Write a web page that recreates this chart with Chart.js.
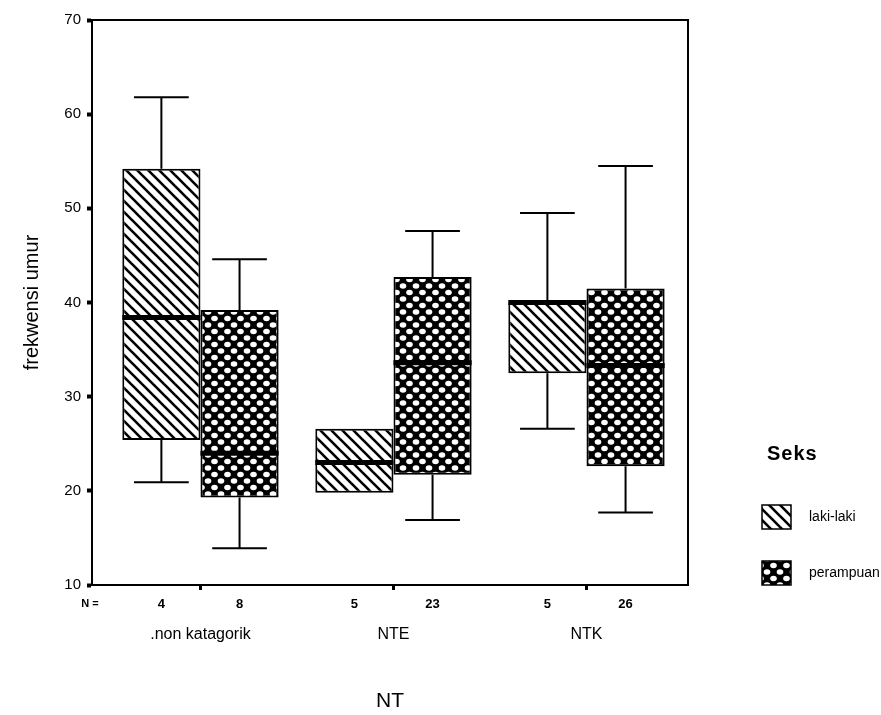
<!DOCTYPE html>
<html>
<head>
<meta charset="utf-8">
<script src="https://cdn.jsdelivr.net/npm/chart.js@4/dist/chart.umd.min.js"></script>
<style>
  html, body { margin: 0; padding: 0; background: #fff; }
  canvas { display: block; }
</style>
</head>
<body>
<canvas id="box-chart" width="881" height="715"></canvas>
<script>
const categories = [".non katagorik", "NTE", "NTK"];
const yTicks = [10, 20, 30, 40, 50, 60, 70];

// laki-laki
const lakiMin = [20.9, 19.8, 26.6];
const lakiQ1 = [25.4, 19.8, 32.5];
const lakiMedian = [38.4, 23.0, 40.0];
const lakiQ3 = [54.2, 26.6, 40.0];
const lakiMax = [61.8, 26.6, 49.5];
const lakiN = [4, 5, 5];

// perempuan
const perMin = [13.9, 16.9, 17.7];
const perQ1 = [19.3, 21.7, 22.6];
const perMedian = [24.0, 33.6, 33.3];
const perQ3 = [39.2, 42.7, 41.5];
const perMax = [44.6, 47.6, 54.5];
const perN = [8, 23, 26];

const FONT = "'Liberation Sans', Arial, sans-serif";

function stripePattern() {
  const c = document.createElement("canvas");
  c.width = 11;
  c.height = 11;
  const g = c.getContext("2d");
  g.fillStyle = "#fff";
  g.fillRect(0, 0, 11, 11);
  g.strokeStyle = "#000";
  g.lineWidth = 2.6;
  for (const k of [-11, 0, 11]) {
    g.beginPath();
    g.moveTo(-1, k - 1);
    g.lineTo(12, k + 12);
    g.stroke();
  }
  return g.createPattern(c, "repeat");
}

// black ground with rounded white holes on a diamond lattice
function crossPattern() {
  const s = 13;
  const c = document.createElement("canvas");
  c.width = s;
  c.height = s;
  const g = c.getContext("2d");
  g.fillStyle = "#000";
  g.fillRect(0, 0, s, s);
  g.fillStyle = "#fff";
  const holes = [[0, 0], [s, 0], [0, s], [s, s], [s / 2, s / 2]];
  for (const [hx, hy] of holes) {
    g.beginPath();
    g.ellipse(hx, hy, 3.3, 2.8, 0, 0, Math.PI * 2);
    g.fill();
  }
  return g.createPattern(c, "repeat");
}

const lakiFill = stripePattern();
const perFill = crossPattern();

const boxes = [
  { label: "laki-laki", fill: lakiFill, min: lakiMin, q1: lakiQ1, med: lakiMedian, q3: lakiQ3, max: lakiMax, n: lakiN },
  { label: "perampuan", fill: perFill, min: perMin, q1: perQ1, med: perMedian, q3: perQ3, max: perMax, n: perN },
];

const boxPlotPlugin = {
  id: "boxPlot",
  afterDatasetsDraw(chart) {
    const { ctx, chartArea } = chart;
    const y = chart.scales.y;
    ctx.save();
    ctx.strokeStyle = "#000";
    ctx.fillStyle = "#000";

    // frame top and right
    ctx.lineWidth = 2;
    ctx.beginPath();
    ctx.moveTo(chartArea.left, chartArea.top);
    ctx.lineTo(chartArea.right, chartArea.top);
    ctx.lineTo(chartArea.right, chartArea.bottom);
    ctx.stroke();

    boxes.forEach((b, di) => {
      const meta = chart.getDatasetMeta(di);
      meta.data.forEach((bar, i) => {
        const cx = bar.x;
        const w = bar.width;
        const cap = w * 0.7;
        const yMin = y.getPixelForValue(b.min[i]);
        const yQ1 = y.getPixelForValue(b.q1[i]);
        const yQ3 = y.getPixelForValue(b.q3[i]);
        const yMax = y.getPixelForValue(b.max[i]);
        const yMed = y.getPixelForValue(b.med[i]);

        ctx.lineWidth = 2;
        if (b.max[i] > b.q3[i]) {
          ctx.beginPath();
          ctx.moveTo(cx, yQ3);
          ctx.lineTo(cx, yMax);
          ctx.moveTo(cx - cap / 2, yMax);
          ctx.lineTo(cx + cap / 2, yMax);
          ctx.stroke();
        }
        if (b.min[i] < b.q1[i]) {
          ctx.beginPath();
          ctx.moveTo(cx, yQ1);
          ctx.lineTo(cx, yMin);
          ctx.moveTo(cx - cap / 2, yMin);
          ctx.lineTo(cx + cap / 2, yMin);
          ctx.stroke();
        }

        ctx.lineWidth = 5;
        ctx.beginPath();
        ctx.moveTo(cx - w / 2, yMed);
        ctx.lineTo(cx + w / 2, yMed);
        ctx.stroke();

        // N counts
        ctx.font = "bold 13px " + FONT;
        ctx.textAlign = "center";
        ctx.textBaseline = "middle";
        ctx.fillText(String(b.n[i]), cx, chartArea.bottom + 19);
      });
    });

    ctx.font = "bold 11px " + FONT;
    ctx.textAlign = "center";
    ctx.textBaseline = "middle";
    ctx.fillText("N =", chartArea.left - 2, chartArea.bottom + 19);

    // legend
    const lx = chartArea.right + 74;
    ctx.font = "bold 20px " + FONT;
    ctx.textAlign = "left";
    ctx.letterSpacing = "1px";
    ctx.fillText("Seks", lx + 5, 454);
    ctx.letterSpacing = "0px";
    boxes.forEach((b, di) => {
      const top = 505 + di * 56;
      ctx.fillStyle = b.fill;
      ctx.fillRect(lx, top, 29, 24);
      ctx.lineWidth = 1.5;
      ctx.strokeRect(lx, top, 29, 24);
      ctx.fillStyle = "#000";
      ctx.font = "14px " + FONT;
      ctx.fillText(b.label, lx + 47, top + 12);
    });
    ctx.restore();
  },
};

const datasets = boxes.map((b) => ({
  label: b.label,
  data: categories.map((c, i) => ({ x: i, y: [b.q1[i], b.q3[i]] })),
  backgroundColor: b.fill,
  borderColor: "#000",
  borderWidth: 2,
  borderSkipped: false,
  categoryPercentage: 0.81,
  barPercentage: 1.0,
}));

new Chart(document.getElementById("box-chart"), {
  type: "bar",
  data: { datasets },
  options: {
    responsive: false,
    animation: false,
    devicePixelRatio: 1,
    layout: { padding: { top: 20, right: 193, left: 0, bottom: 0 } },
    plugins: {
      legend: { display: false },
      tooltip: { enabled: false },
    },
    scales: {
      x: {
        type: "linear",
        offset: false,
        min: -0.562,
        max: 2.526,
        afterFit: (scale) => { scale.height = 130; },
        afterBuildTicks: (scale) => {
          scale.ticks = categories.map((c, i) => ({ value: i }));
        },
        ticks: {
          callback: (v) => categories[v],
          color: "#000",
          font: { family: FONT, size: 16 },
          padding: 35,
          maxRotation: 0,
          autoSkip: false,
        },
        grid: { offset: false, drawOnChartArea: false, drawTicks: true, tickLength: 5, tickWidth: 3, color: "#000" },
        border: { display: true, color: "#000", width: 2 },
        title: { display: true, text: "NT", color: "#000", font: { family: FONT, size: 21 }, padding: { bottom: 1 } },
      },
      y: {
        min: yTicks[0],
        max: yTicks[yTicks.length - 1],
        afterFit: (scale) => { scale.width = 92; },
        afterBuildTicks: (scale) => {
          scale.ticks = yTicks.map((v) => ({ value: v }));
        },
        ticks: {
          color: "#000",
          font: { family: FONT, size: 15 },
          padding: 6,
        },
        grid: { drawOnChartArea: false, drawTicks: true, tickLength: 5, tickWidth: 4, color: "#000" },
        border: { display: true, color: "#000", width: 2 },
        title: { display: true, text: "frekwensi umur", color: "#000", font: { family: FONT, size: 20 }, padding: { top: 20 } },
      },
    },
  },
  plugins: [boxPlotPlugin],
});
</script>
</body>
</html>
